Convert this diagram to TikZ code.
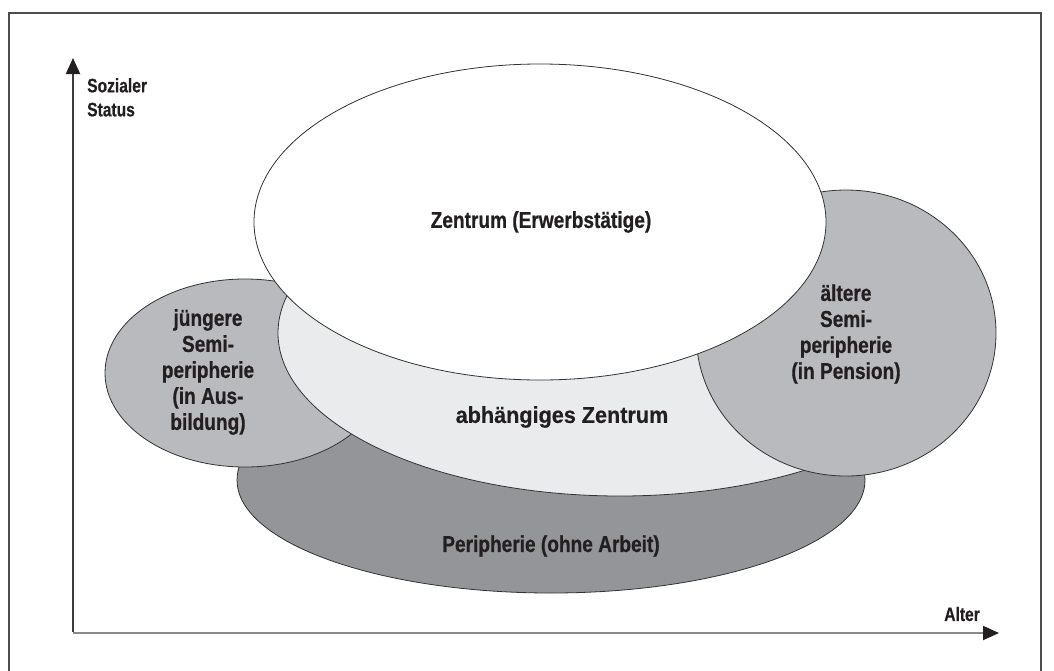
\documentclass[tikz,border=0pt]{standalone}
\usepackage{fontspec}
\setmainfont{Liberation Sans}
\newfontfamily\condf{Liberation Sans Bold}[FakeStretch=0.83, FakeBold=0.6]
\newfontfamily\widef{Liberation Sans Bold}[FakeStretch=0.94, FakeBold=0.4]
\newfontfamily\axisf{Liberation Sans Bold}[FakeStretch=0.8, FakeBold=0.5]
\usetikzlibrary{arrows.meta}
\definecolor{ink}{HTML}{231F20}
\definecolor{framec}{HTML}{4D4D4D}
\definecolor{edgec}{HTML}{333333}
\definecolor{zentrumc}{HTML}{FFFFFF}
\definecolor{abhc}{HTML}{EAEBEC}
\definecolor{semic}{HTML}{B9BABD}
\definecolor{perc}{HTML}{939598}
\definecolor{xaxisc}{HTML}{8A8A8A}
\definecolor{yaxisc}{HTML}{3C3C3C}
\tikzset{
  blob/.style={draw=edgec, line width=0.8pt},
  lbl/.style={text=ink, align=center, inner sep=0pt, font=\condf\fontsize{23}{26}\selectfont},
  lblwide/.style={text=ink, align=center, inner sep=0pt, font=\widef\fontsize{23}{26}\selectfont},
  axlbl/.style={text=ink, align=left, inner sep=0pt, font=\axisf\fontsize{19.5}{24}\selectfont},
  axisline/.style={line width=2pt, -{Triangle[length=16pt,width=14pt,color=ink]}},
}
\begin{document}
\begin{tikzpicture}[x=1pt,y=-1pt]
\useasboundingbox (0,0) rectangle (1054,670);
% frame
\draw[framec, line width=2.5pt] (9,700) -- (9,13) -- (1041,13) -- (1041,700);
% ellipses, back to front
\fill[perc] (551,480) ellipse [x radius=314pt, y radius=113pt];
\draw[blob] (551,480) ellipse [x radius=314pt, y radius=113pt];
\fill[semic] (245,373) ellipse [x radius=140pt, y radius=94pt];
\draw[blob] (245,373) ellipse [x radius=140pt, y radius=94pt];
\fill[abhc] (620,333) ellipse [x radius=342pt, y radius=163pt];
\draw[blob] (620,333) ellipse [x radius=342pt, y radius=163pt];
\fill[semic] (846,333) ellipse [x radius=150pt, y radius=143pt];
\draw[blob] (846,333) ellipse [x radius=150pt, y radius=143pt];
\fill[zentrumc] (540,222) ellipse [x radius=286pt, y radius=158pt];
\draw[blob] (540,222) ellipse [x radius=286pt, y radius=158pt];
% labels
\node[lbl] (zentrum) at (541,222) {Zentrum (Erwerbstätige)};
\node[lblwide] (abh) at (562,417) {abhängiges Zentrum};
\node[lbl] (peri) at (551,546) {Peripherie (ohne Arbeit)};
\node[lbl] (jung) at (208,372) {jüngere\\Semi-\\peripherie\\(in Aus-\\bildung)};
\node[lbl] (alt) at (846,334) {ältere\\Semi-\\peripherie\\(in Pension)};
% axes
\coordinate (origin) at (73,633);
\coordinate (ytip) at (73,58);
\coordinate (xtip) at (999,633);
\draw[axisline, draw=xaxisc] (origin) -- (xtip);
\draw[axisline, draw=yaxisc] ([yshift=1pt]origin) -- (ytip);
\node[axlbl, anchor=north west] (status) at (87,78) {Sozialer\\Status};
\node[axlbl, anchor=east] (alter) at (980,614) {Alter};
\end{tikzpicture}
\end{document}
